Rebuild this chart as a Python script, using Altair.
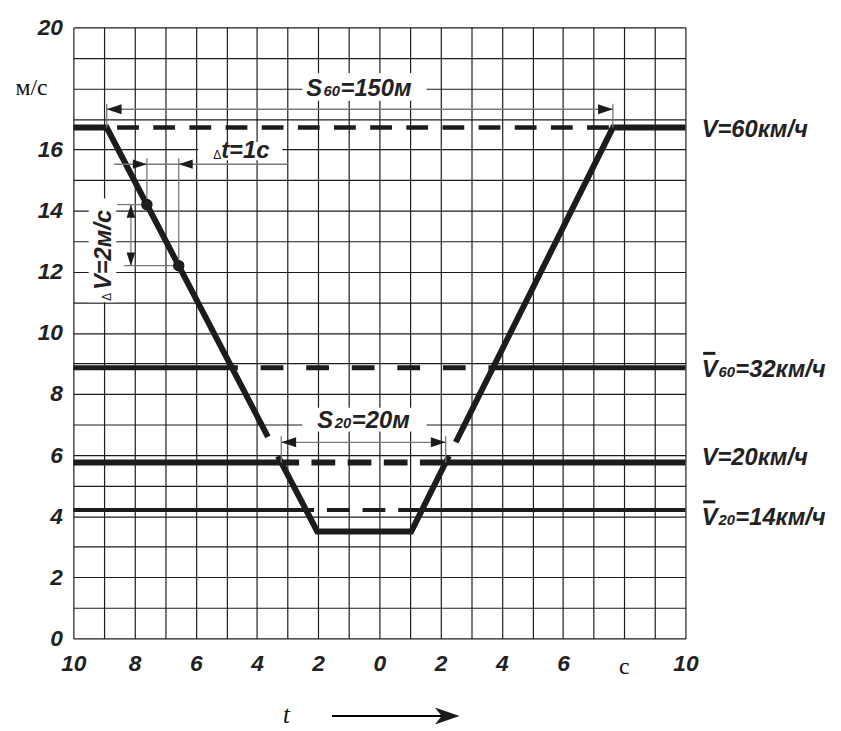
import altair as alt
import pandas as pd
import numpy as np

# ---------------- data ----------------
# speed curve (time in s, speed in m/s)
curve_t = [-10.0, -8.91, -2.03, 1.04, 7.63, 10.0]
curve_v = [16.72, 16.72, 3.50, 3.50, 16.72, 16.72]

# horizontal speed levels: V=60 km/h, mean V60=32 km/h, V=20 km/h, mean V20=14 km/h
level_v = [16.72, 8.86, 5.76, 4.20]

# break of the curve behind the S20 dimension line (left slope, right slope)
gap_left = [5.97, 6.60]
gap_right = [5.97, 6.42]

# the two marked points (dV = 2 m/s for dt = 1 s)
dots_v = [14.2, 12.2]

# dimension lines heights
s60_v = 17.32
dt_v = 15.52
s20_v = 6.42

x_ticks = list(range(-10, 11))
y_ticks = list(range(0, 21))

# ---------------- helpers ----------------
def left_x(v):
    return float(np.interp(v, [curve_v[2], curve_v[1]], [curve_t[2], curve_t[1]]))

def right_x(v):
    return float(np.interp(v, [curve_v[3], curve_v[4]], [curve_t[3], curve_t[4]]))

W, H = 618, 617
SANS = "Liberation Sans"
SERIF = "Liberation Serif"
INK = "#1c1c1c"
GRAY = "#7a7a7a"

xs = alt.Scale(domain=[-10, 10], nice=False, zero=False)
ys = alt.Scale(domain=[0, 20], nice=False, zero=False)

xaxis = alt.Axis(
    values=x_ticks, grid=True, gridColor=INK, gridWidth=1.2, gridOpacity=1,
    ticks=False, tickSize=0, domain=False,
    labelExpr="(datum.value % 2 == 0 && datum.value != 8) ? '' + abs(datum.value) : ''",
    labelFont=SANS, labelFontSize=23, labelFontWeight="bold", labelFontStyle="italic",
    labelColor="#222222", labelPadding=14, labelOverlap=False, labelFlush=False,
    title=None,
)
yaxis = alt.Axis(
    values=y_ticks, grid=True, gridColor=INK, gridWidth=1.2, gridOpacity=1,
    ticks=False, tickSize=0, domain=False,
    labelExpr="(datum.value % 2 == 0 && datum.value != 18) ? '' + datum.value : ''",
    labelFont=SANS, labelFontSize=23, labelFontWeight="bold", labelFontStyle="italic",
    labelColor="#222222", labelPadding=11, labelOverlap=False, labelFlush=False,
    labelBaseline="middle", title=None,
)

def X(f="x"):
    return alt.X(f"{f}:Q", scale=xs, axis=xaxis)

def Y(f="y"):
    return alt.Y(f"{f}:Q", scale=ys, axis=yaxis)

layers = []

# ---------------- white backgrounds behind labels ----------------
bg = pd.DataFrame({
    "x": [-2.52, -5.92, -9.50, -2.52],
    "x2": [1.54, -3.17, -8.60, 1.54],
    "y": [17.60, 15.65, 11.00, 6.77],
    "y2": [18.50, 16.25, 14.40, 7.55],
})
layers.append(alt.Chart(bg).mark_rect(color="white").encode(
    x=X(), x2="x2:Q", y=Y(), y2="y2:Q"))

# ---------------- horizontal speed lines ----------------
styles = [  # width, dash, offset
    (4.5, [22, 14.5], 26),
    (5.0, [23, 23], 17),
    (6.0, [24, 12.5], 6),
    (4.0, [23, 13], 15),
]
solid_rows = []
for k, v in enumerate(level_v):
    w, dash, off = styles[k]
    if k == 0:
        xl, xr = curve_t[1], curve_t[4]
    else:
        xl, xr = left_x(v), right_x(v)
        solid_rows.append({"x": -10.0, "x2": xl, "y": v, "w": w})
        solid_rows.append({"x": xr, "x2": 10.0, "y": v, "w": w})
    dd = pd.DataFrame({"x": [xl], "x2": [xr], "y": [v]})
    layers.append(alt.Chart(dd).mark_rule(
        color=INK, strokeWidth=w, strokeDash=dash, strokeDashOffset=off,
        strokeCap="butt").encode(x=X(), x2="x2:Q", y=Y()))
sd = pd.DataFrame(solid_rows)
layers.append(alt.Chart(sd).mark_rule(color=INK, strokeCap="butt").encode(
    x=X(), x2="x2:Q", y=Y(), strokeWidth=alt.StrokeWidth("w:Q", scale=None)))

# ---------------- the speed curve (three pieces) ----------------
crow = [
    (0, 0, curve_t[0], curve_v[0]), (0, 1, curve_t[1], curve_v[1]),
    (0, 2, left_x(gap_left[1]), gap_left[1]),
    (1, 0, left_x(gap_left[0]), gap_left[0]), (1, 1, curve_t[2], curve_v[2]),
    (1, 2, curve_t[3], curve_v[3]), (1, 3, right_x(gap_right[0]), gap_right[0]),
    (2, 0, right_x(gap_right[1]), gap_right[1]), (2, 1, curve_t[4], curve_v[4]),
    (2, 2, curve_t[5], curve_v[5]),
]
cdf = pd.DataFrame(crow, columns=["seg", "i", "x", "y"])
layers.append(alt.Chart(cdf).mark_line(
    color=INK, strokeWidth=6, strokeCap="butt", strokeJoin="miter").encode(
    x=X(), y=Y(), detail="seg:N", order="i:Q"))

# ---------------- dimension lines (thin gray) ----------------
p1x, p2x = left_x(dots_v[0]), left_x(dots_v[1])
xl20, xr20 = left_x(level_v[2]), right_x(level_v[2])
dvx = -8.12
thin = pd.DataFrame([
    {"x": curve_t[1], "x2": curve_t[4], "y": s60_v, "y2": s60_v},
    {"x": curve_t[1], "x2": curve_t[1], "y": 16.72, "y2": 17.5},
    {"x": curve_t[4], "x2": curve_t[4], "y": 16.72, "y2": 17.5},
    {"x": -8.67, "x2": -3.0, "y": dt_v, "y2": dt_v},
    {"x": p1x, "x2": p1x, "y": dots_v[0], "y2": 15.72},
    {"x": p2x, "x2": p2x, "y": dots_v[1], "y2": 15.72},
    {"x": dvx, "x2": dvx, "y": dots_v[1], "y2": dots_v[0]},
    {"x": -8.57, "x2": p1x, "y": dots_v[0], "y2": dots_v[0]},
    {"x": -8.35, "x2": p2x, "y": dots_v[1], "y2": dots_v[1]},
    {"x": xl20, "x2": xr20, "y": s20_v, "y2": s20_v},
    {"x": xl20, "x2": xl20, "y": level_v[2], "y2": 6.62},
    {"x": xr20, "x2": xr20, "y": level_v[2], "y2": 6.62},
])
layers.append(alt.Chart(thin).mark_rule(color=GRAY, strokeWidth=1.3).encode(
    x=X(), x2="x2:Q", y=Y(), y2="y2:Q"))

# t axis arrow line
tline = pd.DataFrame({"x": [-1.55], "x2": [2.45], "y": [-2.54]})
layers.append(alt.Chart(tline).mark_rule(color="black", strokeWidth=2).encode(
    x=X(), x2="x2:Q", y=Y()))

# ---------------- arrowheads ----------------
RIGHT = "M0,0 L-1,-0.33 L-1,0.33 Z"
LEFT = "M0,0 L1,-0.33 L1,0.33 Z"
UP = "M0,0 L-0.33,1 L0.33,1 Z"
DOWN = "M0,0 L-0.33,-1 L0.33,-1 Z"
STEALTH = "M0,0 L-1,-0.34 L-0.72,0 L-1,0.34 Z"
heads = pd.DataFrame([
    {"x": curve_t[1], "y": s60_v, "shape": LEFT, "size": 900},
    {"x": curve_t[4], "y": s60_v, "shape": RIGHT, "size": 900},
    {"x": p1x, "y": dt_v, "shape": RIGHT, "size": 800},
    {"x": p2x, "y": dt_v, "shape": LEFT, "size": 800},
    {"x": dvx, "y": dots_v[0], "shape": UP, "size": 700},
    {"x": dvx, "y": dots_v[1], "shape": DOWN, "size": 700},
    {"x": xl20, "y": s20_v, "shape": LEFT, "size": 900},
    {"x": xr20, "y": s20_v, "shape": RIGHT, "size": 900},
    {"x": 2.62, "y": -2.54, "shape": STEALTH, "size": 2500},
])
layers.append(alt.Chart(heads).mark_point(
    filled=True, color=INK, opacity=1, strokeWidth=0).encode(
    x=X(), y=Y(), shape=alt.Shape("shape:N", scale=None),
    size=alt.Size("size:Q", scale=None)))

# ---------------- the two points ----------------
dots = pd.DataFrame({"x": [p1x, p2x], "y": dots_v})
layers.append(alt.Chart(dots).mark_circle(size=135, color=INK, opacity=1).encode(
    x=X(), y=Y()))

# ---------------- overbars of the mean speeds ----------------
bars = pd.DataFrame({"x": [10.58, 10.58], "x2": [10.98, 10.98], "y": [9.33, 4.47]})
layers.append(alt.Chart(bars).mark_rule(color=INK, strokeWidth=3).encode(
    x=X(), x2="x2:Q", y=Y()))

# ---------------- texts ----------------
main_txt = pd.DataFrame([
    ("S", -2.39, 17.75), ("=150м", -1.27, 17.75),
    ("S", -2.03, 6.89), ("=20м", -0.90, 6.89),
    ("t=1с", -5.17, 15.72),
    ("V=60км/ч", 10.53, 16.40),
    ("V", 10.53, 8.56), ("=32км/ч", 11.63, 8.56),
    ("V=20км/ч", 10.53, 5.67),
    ("V", 10.53, 3.70), ("=14км/ч", 11.63, 3.70),
], columns=["text", "x", "y"])
layers.append(alt.Chart(main_txt).mark_text(
    align="left", baseline="alphabetic", font=SANS, fontSize=24,
    fontWeight="bold", fontStyle="italic", color="#222222").encode(
    x=X(), y=Y(), text="text:N"))

sub_txt = pd.DataFrame([
    ("60", -1.83, 17.75), ("20", -1.46, 6.89),
    ("60", 11.08, 8.56), ("20", 11.08, 3.70),
], columns=["text", "x", "y"])
layers.append(alt.Chart(sub_txt).mark_text(
    align="left", baseline="alphabetic", font=SANS, fontSize=15,
    fontWeight="bold", fontStyle="italic", color="#222222").encode(
    x=X(), y=Y(), text="text:N"))

delta_txt = pd.DataFrame([("Δ", -5.43, 15.69)], columns=["text", "x", "y"])
layers.append(alt.Chart(delta_txt).mark_text(
    align="left", baseline="alphabetic", font=SANS, fontSize=12,
    color="#222222").encode(x=X(), y=Y(), text="text:N"))

rot_main = pd.DataFrame([("V=2м/с", -8.77, 11.40)], columns=["text", "x", "y"])
layers.append(alt.Chart(rot_main).mark_text(
    align="left", baseline="alphabetic", font=SANS, fontSize=24, angle=270,
    fontWeight="bold", fontStyle="italic", color="#222222").encode(
    x=X(), y=Y(), text="text:N"))
rot_delta = pd.DataFrame([("Δ", -8.77, 11.05)], columns=["text", "x", "y"])
layers.append(alt.Chart(rot_delta).mark_text(
    align="left", baseline="alphabetic", font=SANS, fontSize=12, angle=270,
    color="#222222").encode(x=X(), y=Y(), text="text:N"))

serif_txt = pd.DataFrame([("м/с", -10.84, 17.8, "right"), ("с", 8.0, -1.15, "center")],
                         columns=["text", "x", "y", "al"])
layers.append(alt.Chart(serif_txt[serif_txt.al == "right"]).mark_text(
    align="right", baseline="alphabetic", font=SERIF, fontSize=24,
    color="#111111").encode(x=X(), y=Y(), text="text:N"))
layers.append(alt.Chart(serif_txt[serif_txt.al == "center"]).mark_text(
    align="center", baseline="alphabetic", font=SERIF, fontSize=24,
    color="#111111").encode(x=X(), y=Y(), text="text:N"))

t_txt = pd.DataFrame([("t", -3.04, -2.78)], columns=["text", "x", "y"])
layers.append(alt.Chart(t_txt).mark_text(
    align="center", baseline="alphabetic", font=SERIF, fontSize=25,
    fontStyle="italic", color="#111111").encode(x=X(), y=Y(), text="text:N"))

chart = alt.layer(*layers).properties(
    width=W, height=H,
    padding={"left": 66, "top": 16, "right": 149, "bottom": 98},
    autosize=alt.AutoSizeParams(type="none"),
    background="white",
).configure_view(strokeOpacity=0)

chart.save("out.html", embed_options={"renderer": "svg", "actions": False})
